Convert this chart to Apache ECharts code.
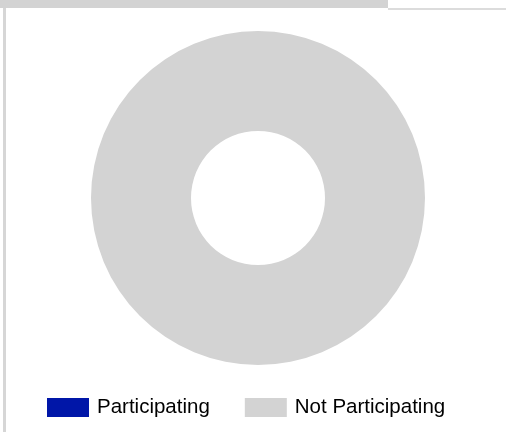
<!DOCTYPE html>
<html>
<head>
<meta charset="utf-8">
<script src="https://cdn.jsdelivr.net/npm/echarts@6/dist/echarts.min.js"></script>
<style>
  html, body { margin: 0; padding: 0; background: #fff; }
  #chart { width: 506px; height: 434px; }
</style>
</head>
<body>
<div id="chart"></div>
<script>
// legend / slice names and values
var categories = ["Participating", "Not Participating"];
var values = [0, 100];
var colors = ["#0016a8", "#d3d3d3"];

var chart = echarts.init(document.getElementById("chart"));

var option = {
  animation: false,
  backgroundColor: "#fff",
  // page frame around the chart
  graphic: [
    { type: "rect", shape: { x: 0, y: 0, width: 388, height: 8 }, style: { fill: "#d3d3d3" }, silent: true },
    { type: "rect", shape: { x: 388, y: 8, width: 118, height: 2 }, style: { fill: "#dcdcdc" }, silent: true },
    { type: "rect", shape: { x: 3, y: 8, width: 3, height: 424 }, style: { fill: "#d6d6d6" }, silent: true }
  ],
  legend: {
    data: categories,
    left: 47,
    top: 397,
    padding: 0,
    icon: "rect",
    itemWidth: 42,
    itemHeight: 19,
    itemGap: 35,
    selectedMode: false,
    textStyle: {
      fontFamily: "Liberation Sans, Arial, sans-serif",
      fontSize: 20.5,
      color: "#000",
      padding: [0, 0, 0, 3]
    }
  },
  series: [
    {
      type: "pie",
      center: [258, 198],
      radius: [67, 167],
      silent: true,
      label: { show: false },
      labelLine: { show: false },
      itemStyle: { borderWidth: 0 },
      data: categories.map(function (name, i) {
        return { name: name, value: values[i], itemStyle: { color: colors[i] } };
      })
    }
  ]
};

chart.setOption(option);
</script>
</body>
</html>
